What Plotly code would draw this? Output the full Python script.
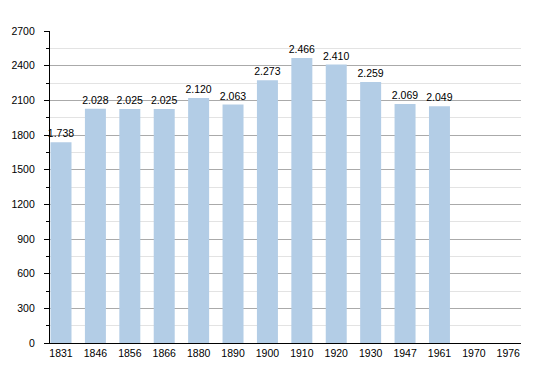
import plotly.graph_objects as go

years = ["1831", "1846", "1856", "1866", "1880", "1890", "1900", "1910", "1920", "1930", "1947", "1961", "1970", "1976"]
population = [1738, 2028, 2025, 2025, 2120, 2063, 2273, 2466, 2410, 2259, 2069, 2049, None, None]
y_ticks = [0, 300, 600, 900, 1200, 1500, 1800, 2100, 2400, 2700]

labels = ["" if v is None else f"{v:,}".replace(",", ".") for v in population]

fig = go.Figure(go.Bar(
    x=years, y=population, text=labels, textposition="outside",
    constraintext="none",
    textfont=dict(family="Liberation Sans, Arial", size=10.5, color="#000"),
    marker=dict(color="#b3cde6", line=dict(width=0)),
    cliponaxis=False,
))

fig.update_layout(
    width=542, height=365,
    margin=dict(l=42, r=29, t=23, b=30, autoexpand=False),
    paper_bgcolor="white", plot_bgcolor="white",
    bargap=0.39, showlegend=False,
    font=dict(family="Liberation Sans, Arial", size=10.5, color="#000"),
)
fig.update_xaxes(
    type="category", range=[-0.32, 13.37], automargin=False,
    showline=True, linecolor="#000", linewidth=1.3,
    ticks="", showgrid=False, tickfont=dict(size=10.5),
)
fig.update_yaxes(
    range=[0, 2700], tickvals=y_ticks, automargin=False,
    showline=True, linecolor="#000", linewidth=1.3,
    ticks="outside", ticklen=5, tickcolor="#000", tickwidth=1,
    showgrid=True, gridcolor="#aaaaaa", gridwidth=1,
    minor=dict(dtick=150, ticks="outside", ticklen=3, tickcolor="#000",
               showgrid=True, gridcolor="#e3e3e3", gridwidth=1),
    ticklabelstandoff=7, zeroline=False,
)

fig.write_html("out.html")
